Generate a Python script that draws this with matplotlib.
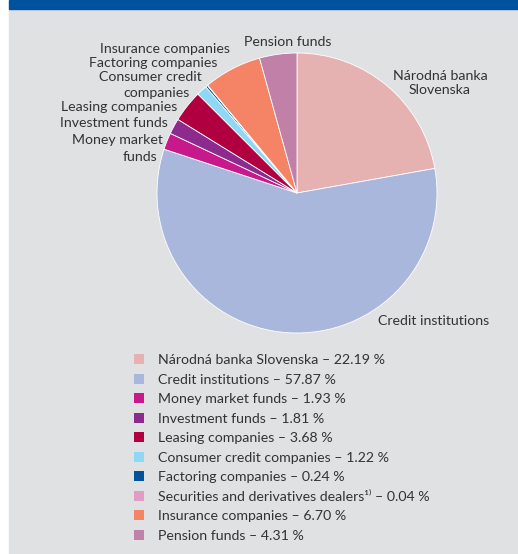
import matplotlib
matplotlib.use('Agg')
import matplotlib.pyplot as plt
from matplotlib.patches import Rectangle

plt.rcParams['font.family'] = ['Lato', 'DejaVu Sans']

# Data
names = ['Národná banka Slovenska', 'Credit institutions', 'Money market funds',
         'Investment funds', 'Leasing companies', 'Consumer credit companies',
         'Factoring companies', 'Securities and derivatives dealers¹⁾',
         'Insurance companies', 'Pension funds']
shares = [22.19, 57.87, 1.93, 1.81, 3.68, 1.22, 0.24, 0.04, 6.70, 4.31]
colors = ['#e6b1b1', '#a9b7dc', '#c8198c', '#8c2a8d', '#b0003f', '#8ed8f6',
          '#00529c', '#e19dc6', '#f58466', '#c080a8']

W, H = 518, 554
fig = plt.figure(figsize=(W / 100, H / 100), dpi=100)
fig.patch.set_facecolor('white')

# background panel in pixel coords
bg = fig.add_axes([0, 0, 1, 1])
bg.set_xlim(0, W)
bg.set_ylim(H, 0)
bg.axis('off')
bg.add_patch(Rectangle((9, 0), W - 9, H, color='#e0e1e3', zorder=0))
bg.add_patch(Rectangle((9, 0), W - 9, 8.5, color='#00529c', zorder=1))

# pie
cx, cy, r = 297, 193, 140
ax = fig.add_axes([(cx - r) / W, 1 - (cy + r) / H, 2 * r / W, 2 * r / H])
wedges, _ = ax.pie(shares, colors=colors, startangle=90, counterclock=False,
                   wedgeprops=dict(edgecolor='white', linewidth=0.6))
ax.set_xlim(-1, 1)
ax.set_ylim(-1, 1)
ax.set_aspect('auto')
ax.axis('off')

tc = '#333333'
fs = 10.2
bg.text(288, 42, 'Pension funds', ha='center', va='center', fontsize=fs, color=tc)
bg.text(440, 83, 'Národná banka\nSlovenska', ha='center', va='center', fontsize=fs,
        color=tc, linespacing=1.25)
bg.text(434, 321, 'Credit institutions', ha='center', va='center', fontsize=fs, color=tc)
bg.text(230, 49, 'Insurance companies', ha='right', va='center', fontsize=fs, color=tc)
bg.text(217, 63, 'Factoring companies', ha='right', va='center', fontsize=fs, color=tc)
bg.text(150, 77, 'Consumer credit', ha='center', va='center', fontsize=fs, color=tc)
bg.text(157, 93, 'companies', ha='center', va='center', fontsize=fs, color=tc)
bg.text(177, 107, 'Leasing companies', ha='right', va='center', fontsize=fs, color=tc)
bg.text(168, 123, 'Investment funds', ha='right', va='center', fontsize=fs, color=tc)
bg.text(163, 140, 'Money market', ha='right', va='center', fontsize=fs, color=tc)
bg.text(157, 157, 'funds', ha='right', va='center', fontsize=fs, color=tc)

labels = [f'{n} – {v:.2f} %' for n, v in zip(names, shares)]
leg = fig.legend(wedges, labels, loc='upper left', bbox_to_anchor=(127 / W, 1 - 347 / H),
                 frameon=False, fontsize=fs, handlelength=0.7, handleheight=0.7,
                 handletextpad=1.0, labelspacing=0.53, borderpad=0)
for t in leg.get_texts():
    t.set_color(tc)
for h in leg.legend_handles:
    h.set_edgecolor('none')

fig.savefig('out.png', dpi=100, facecolor=fig.get_facecolor())
